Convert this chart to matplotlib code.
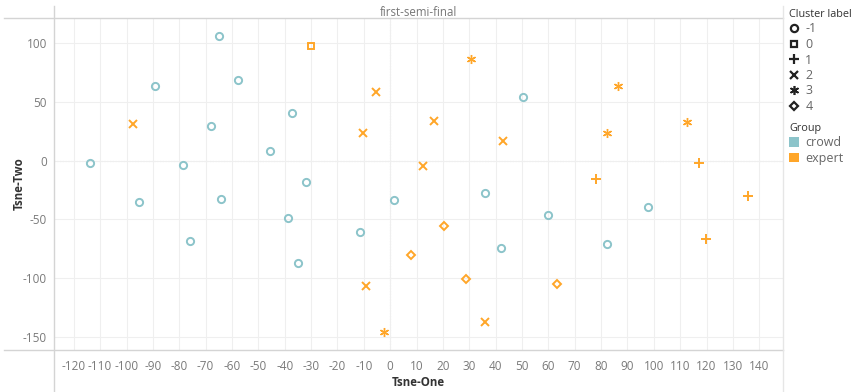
import matplotlib
matplotlib.use("Agg")
from matplotlib import pyplot as plt
from matplotlib.lines import Line2D
from matplotlib.patches import Patch

plt.rcParams["font.family"] = ["Open Sans", "DejaVu Sans"]
plt.rcParams["axes.unicode_minus"] = False

# t-SNE coordinates
tsne_one = [-113.9, -89.1, -78.4, -67.9, -65.0, -57.6, -45.7, -37.3, -31.9, -95.4, -64.1,
            -76.1, -38.6, -34.8, -11.4, 1.3, 35.8, 50.5, 59.8, 97.7, 42.0, 82.2,
            -30.0,
            -97.5, -10.4, -5.2, 12.4, 16.8, 42.9, -9.2, 36.1,
            30.6, 86.4, 82.1, 112.7, -2.4,
            78.1, 117.1, 135.7, 119.8,
            7.8, 20.4, 28.8, 63.2]
tsne_two = [-2.2, 63.4, -3.4, 29.3, 106.3, 68.5, 8.3, 40.4, -18.2, -35.2, -32.7,
            -68.7, -48.6, -87.2, -61.0, -33.5, -27.3, 54.6, -46.3, -39.5, -74.4, -70.7,
            98.0,
            31.5, 23.9, 58.6, -4.8, 34.1, 16.8, -106.8, -137.8,
            86.4, 63.4, 23.6, 33.2, -146.3,
            -15.6, -2.2, -30.1, -67.0,
            -80.6, -55.7, -100.6, -105.1]
cluster = [-1] * 22 + [0] + [2] * 8 + [3] * 5 + [1] * 4 + [4] * 4
group = ["crowd"] * 22 + ["expert"] * 22

cluster_labels = [-1, 0, 1, 2, 3, 4]
group_labels = ["crowd", "expert"]

colors = {"crowd": "#8cc4ca", "expert": "#ffa629"}
# marker, size, edge width
markers = {-1: ("o", 5.2, 1.4), 0: ("s", 4.6, 1.4), 1: ("+", 6.5, 1.4),
           2: ("x", 5.6, 1.4), 3: ((6, 2, 0), 6.5, 1.0), 4: ("D", 4.0, 1.4)}

fig = plt.figure(figsize=(8.55, 3.92), dpi=100)
W, H = 855, 392
ax = fig.add_axes([54 / W, 1 - 350 / H, (783 - 54) / W, (350 - 18) / H])

for g in group_labels:
    for c in cluster_labels:
        xs = [x for x, cc, gg in zip(tsne_one, cluster, group) if cc == c and gg == g]
        ys = [y for y, cc, gg in zip(tsne_two, cluster, group) if cc == c and gg == g]
        if not xs:
            continue
        m, ms, mew = markers[c]
        ax.plot(xs, ys, linestyle="none", marker=m, markersize=ms,
                markerfacecolor="none", markeredgecolor=colors[g],
                markeredgewidth=mew, zorder=3)

ax.set_xlim(-127.5, 149)
ax.set_ylim(-161.4, 121.6)
ax.set_xticks(range(-120, 141, 10))
ax.set_yticks([-150, -100, -50, 0, 50, 100])
ax.grid(True, color="#efefef", linewidth=0.8, zorder=0)
ax.axhline(0, color="#d8d8d8", linewidth=0.8, linestyle=(0, (1, 1.5)), zorder=1)
ax.axvline(0, color="#d8d8d8", linewidth=0.8, linestyle=(0, (1, 1.5)), zorder=1)
ax.tick_params(length=0, labelsize=8.5, labelcolor="#7a7a7a")
ax.tick_params(axis="x", pad=7)
ax.tick_params(axis="y", pad=5)
for s in ax.spines.values():
    s.set_visible(False)

ax.set_xlabel("Tsne-One", fontsize=8.3, fontweight="bold", color="#333333", labelpad=2)
ax.set_ylabel("Tsne-Two", fontsize=8.3, fontweight="bold", color="#333333", labelpad=-2)

# pane borders
line_color = "#d4d4d4"
fig.add_artist(Line2D([4 / W, 783 / W], [1 - 18 / H, 1 - 18 / H], color=line_color, lw=1))
fig.add_artist(Line2D([4 / W, 783 / W], [1 - 350 / H, 1 - 350 / H], color=line_color, lw=1))
fig.add_artist(Line2D([54 / W, 54 / W], [0, 1 - 6 / H], color=line_color, lw=1))
fig.add_artist(Line2D([783 / W, 783 / W], [0, 1 - 6 / H], color="#e6e6e6", lw=1))
fig.text((54 + 783) / 2 / W, 1 - 12 / H, "first-semi-final", ha="center", va="center",
         fontsize=8.3, color="#777777")

# legends
cluster_handles = [Line2D([], [], linestyle="none", marker=markers[c][0],
                          markersize=markers[c][1], markerfacecolor="none",
                          markeredgecolor="#222222", markeredgewidth=markers[c][2] + 0.2,
                          label=str(c)) for c in cluster_labels]
leg1 = fig.legend(handles=cluster_handles, title="Cluster label", loc="upper left",
                  bbox_to_anchor=(789 / W, 1 - 9 / H), frameon=False, fontsize=9,
                  title_fontsize=7.8, alignment="left", handlelength=0.8,
                  handletextpad=0.5, labelspacing=0.2, borderaxespad=0,
                  borderpad=0, labelcolor="#666666")
leg1.get_title().set_color("#333333")

group_handles = [Patch(facecolor=colors[g], edgecolor="none", label=g) for g in group_labels]
leg2 = fig.legend(handles=group_handles, title="Group", loc="upper left",
                  bbox_to_anchor=(789 / W, 1 - 123 / H), frameon=False, fontsize=9,
                  title_fontsize=7.8, alignment="left", handlelength=0.8,
                  handleheight=0.8, handletextpad=0.5, labelspacing=0.2,
                  borderaxespad=0, borderpad=0, labelcolor="#666666")
leg2.get_title().set_color("#333333")

fig.savefig("out.png", dpi=100)
